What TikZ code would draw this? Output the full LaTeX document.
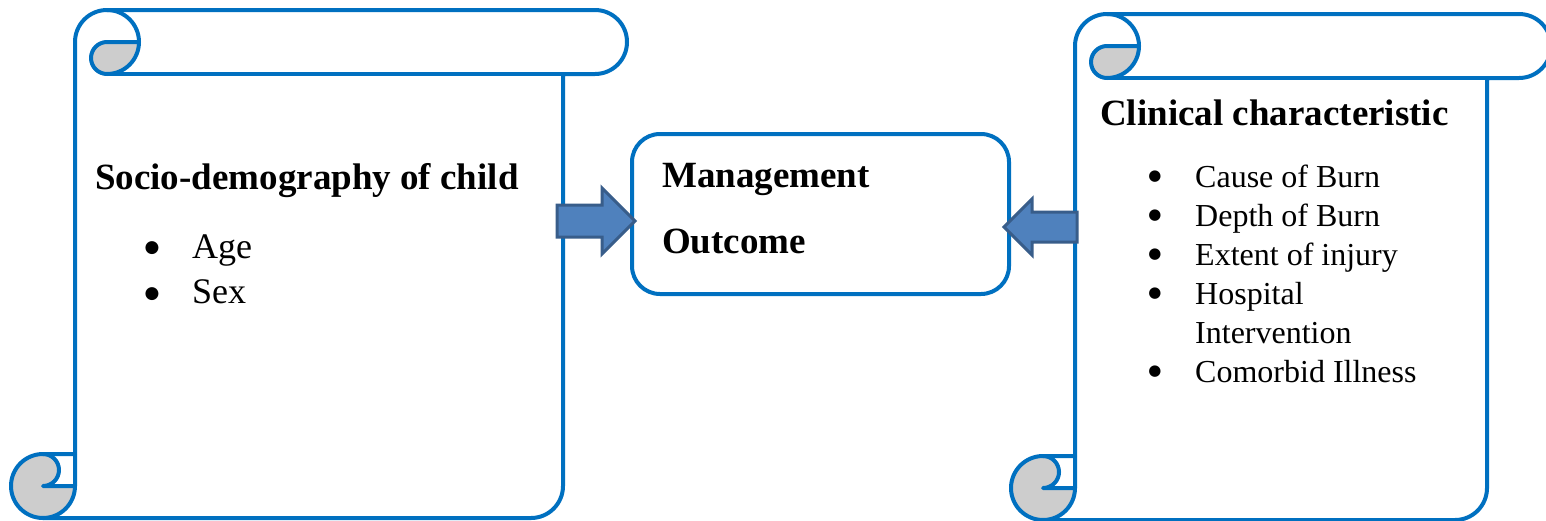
\documentclass[tikz,border=0pt]{standalone}
\usepackage{fontspec}
\setmainfont{Liberation Serif}
\newfontfamily\bulfont{DejaVu Sans}
\definecolor{scrollblue}{HTML}{0070C0}
\definecolor{rollgrey}{HTML}{CDCDCD}
\definecolor{arrowfill}{HTML}{4F81BD}
\definecolor{arrowdraw}{HTML}{385D8A}
\tikzset{
  scrollline/.style={draw=scrollblue, line width=4pt, line join=round, line cap=round},
  rollfill/.style={fill=rollgrey},
  blockarrow/.style={fill=arrowfill, draw=arrowdraw, line width=3pt, line join=miter},
  head/.style={font=\fontsize{37}{44}\selectfont\bfseries, anchor=base west, inner sep=0pt},
  itemL/.style={font=\fontsize{36}{43}\selectfont, anchor=base west, inner sep=0pt},
  itemR/.style={font=\fontsize{32}{39}\selectfont, anchor=base west, inner sep=0pt},
  bulL/.style={font=\bulfont\fontsize{17}{17}\selectfont, anchor=center, inner sep=0pt},
  bulR/.style={font=\bulfont\fontsize{15}{15}\selectfont, anchor=center, inner sep=0pt},
  mobox/.style={draw=scrollblue, line width=4pt, rounded corners=28pt, inner sep=0pt},
}
\newcommand\myscroll[4]{%
\begin{scope}[shift={(#1,#2)}]
\pgfmathsetmacro\W{#3}\pgfmathsetmacro\H{#4}
\pgfmathsetmacro\xs{\W-64}
\pgfmathsetmacro\xt{\W-32}
\pgfmathsetmacro\yc{\H-64}
\pgfmathsetmacro\yd{\H-32}
\fill[rollfill] (128,32) arc[start angle=0,end angle=90,radius=32] arc[start angle=90,end angle=270,radius=16] -- cycle;
\fill[rollfill] (64,\yd) arc[start angle=0,end angle=270,radius=32] arc[start angle=270,end angle=450,radius=16] -- cycle;
\draw[scrollline] (64,\yc) -- (64,32) arc[start angle=180,end angle=270,radius=32] -- (\xt,0) arc[start angle=270,end angle=450,radius=32] -- (\xs,64) -- (\xs,\yd) arc[start angle=0,end angle=90,radius=32] -- (32,\H) arc[start angle=90,end angle=270,radius=32] -- cycle;
\draw[scrollline] (96,0) arc[start angle=270,end angle=450,radius=32] arc[start angle=90,end angle=270,radius=16] -- (128,32);
\draw[scrollline] (\xs,64) -- (96,64);
\draw[scrollline] (32,\yc) arc[start angle=270,end angle=450,radius=16] -- (64,\yd);
\draw[scrollline] (32,\H) arc[start angle=90,end angle=0,radius=32] -- (64,\yc);
\end{scope}}
\begin{document}
\begin{tikzpicture}[x=1pt,y=-1pt]
\clip (0,0) rectangle (1546,520);
\fill[white] (0,0) rectangle (1546,520);
% scrolls
\myscroll{11}{10}{616}{508}
\myscroll{1011}{14}{540}{506}
% central box
\node[mobox, minimum width=377pt, minimum height=160pt, anchor=north west] (mo) at (630,132) {};
% arrows
\coordinate (la) at (557,221);
\coordinate (latip) at (635,221);
\coordinate (ra) at (1077,227);
\coordinate (ratip) at (1004,227);
\draw[blockarrow] (la) ++(0,-16) -- ++(45,0) -- ++(0,-17) -- (latip) -- ++(-33,33) -- ++(0,-17) -- ++(-45,0) -- cycle;
\draw[blockarrow] (ra) ++(0,-15) -- ++(-45,0) -- ++(0,-13) -- (ratip) -- ++(28,28) -- ++(0,-13) -- ++(45,0) -- cycle;
% texts
\node[head] (t1) at (95,189) {Socio-demography of child};
\node[bulL] (b1) at (152,248) {●};
\node[itemL] (a1) at (192,258) {Age};
\node[bulL] (b2) at (152,294) {●};
\node[itemL] (a2) at (192,303) {Sex};
\node[head] (m1) at (662,187) {Management};
\node[head] (m2) at (662,253) {Outcome};
\node[head] (t2) at (1100,125) {Clinical characteristic};
\foreach \y/\t [count=\i] in {187/Cause of Burn,226/Depth of Burn,265/Extent of injury,304/Hospital,382/Comorbid Illness}{
  \node[bulR] (rb\i) at (1155,\y-10) {●};
  \node[itemR] (ri\i) at (1195,\y) {\t};
}
\node[itemR] (ri6) at (1195,343) {Intervention};
\end{tikzpicture}
\end{document}
